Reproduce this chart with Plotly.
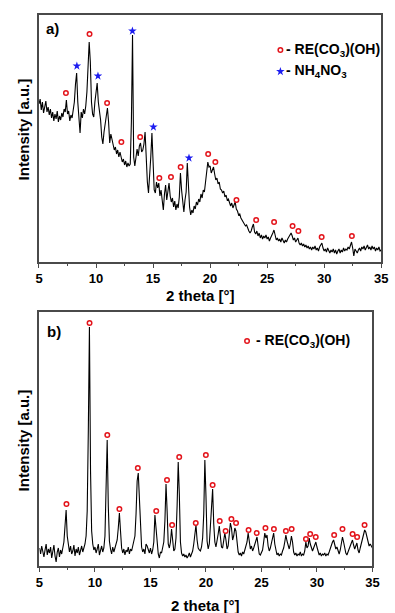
import plotly.graph_objects as go

# ---------------- scan settings ----------------
SCAN_START = 5.0
SCAN_STEP = 0.1

# ---------------- panel a: as-precipitated powder ----------------
intensity_a = [
    158, 163, 152, 160, 149, 156, 161, 150, 155, 147,   # 5.0 - 5.9
    153, 144, 150, 141, 148, 143, 151, 140, 146, 142,   # 6.0 - 6.9
    149, 145, 153, 150, 162, 148, 151, 141, 147, 144,   # 7.0 - 7.9
    152, 160, 178, 189, 160, 140, 129, 150, 144, 153,   # 8.0 - 8.9
    148, 156, 170, 195, 220, 200, 160, 148, 145, 160,   # 9.0 - 9.9
    170, 179, 160, 150, 142, 125, 118, 130, 140, 150,   # 10.0 - 10.9
    154, 140, 119, 128, 122, 118, 112, 115, 108, 112,   # 11.0 - 11.9
    105, 110, 106, 100, 103, 97, 101, 95, 99, 96,       # 12.0 - 12.9
    98, 140, 227, 105, 96, 108, 113, 106, 116, 119,     # 13.0 - 13.9
    110, 112, 118, 130, 100, 80, 69, 85, 105, 129,      # 14.0 - 14.9
    95, 72, 69, 80, 74, 79, 66, 72, 62, 52,             # 15.0 - 15.9
    68, 77, 62, 70, 79, 66, 60, 64, 55, 61,             # 16.0 - 16.9
    52, 58, 54, 65, 89, 72, 58, 50, 62, 70,             # 17.0 - 17.9
    99, 75, 55, 47, 52, 49, 56, 53, 60, 57,             # 18.0 - 18.9
    63, 60, 68, 64, 72, 70, 80, 88, 100, 95,            # 19.0 - 19.9
    96, 89, 92, 95, 88, 82, 84, 78, 80, 73,             # 20.0 - 20.9
    72, 69, 71, 65, 67, 62, 63, 58, 56, 59,             # 21.0 - 21.9
    54, 57, 60, 53, 51, 47, 48, 44, 42, 40,             # 22.0 - 22.9
    38, 36, 37, 33, 31, 29, 31, 35, 38, 30,             # 23.0 - 23.9
    28, 31, 26, 29, 24, 27, 23, 26, 24, 27,             # 24.0 - 24.9
    23, 25, 21, 24, 26, 29, 32, 25, 22, 24,             # 25.0 - 25.9
    21, 23, 20, 24, 21, 19, 22, 20, 23, 25,             # 26.0 - 26.9
    27, 29, 26, 22, 24, 20, 22, 24, 19, 17,             # 27.0 - 27.9
    19, 16, 18, 15, 17, 14, 16, 13, 15, 12,             # 28.0 - 28.9
    15, 13, 16, 12, 14, 11, 15, 18, 19, 14,             # 29.0 - 29.9
    11, 13, 10, 14, 11, 9, 12, 10, 13, 9,               # 30.0 - 30.9
    12, 8, 11, 13, 9, 12, 10, 14, 11, 13,               # 31.0 - 31.9
    12, 15, 13, 17, 20, 14, 6, 13, 10, 9,               # 32.0 - 32.9
    12, 14, 11, 15, 13, 16, 12, 14, 17, 13,             # 33.0 - 33.9
    15, 12, 16, 13, 15, 11, 14, 12, 15, 11,             # 34.0 - 34.9
    12,                                                 # 35.0
]

# reflections of RE(CO3)(OH) in panel a
re_pos_a = [7.36, 9.43, 10.97, 12.22, 13.87, 15.55, 16.57, 17.42, 19.83,
            20.46, 22.31, 24.04, 25.61, 27.23, 27.74, 29.78, 32.43]
re_hgt_a = [169, 228, 159, 120, 125, 84, 85, 95, 108,
            100, 62, 42, 40, 36, 31, 25, 26]

# reflections of NH4NO3 in panel a
nh_pos_a = [8.32, 10.17, 13.19, 15.03, 18.15]
nh_hgt_a = [196, 186, 231, 135, 104]

# ---------------- panel b: washed powder ----------------
intensity_b = [
    18, 12, 20, 14, 9, 16, 22, 11, 17, 13,              # 5.0 - 5.9
    19, 8, 15, 21, 10, 4, 14, 18, 9, 16,                # 6.0 - 6.9
    12, 20, 24, 40, 56, 30, 19, 14, 20, 12,             # 7.0 - 7.9
    15, 21, 10, 17, 13, 19, 11, 16, 20, 14,             # 8.0 - 8.9
    18, 22, 30, 55, 135, 239, 95, 35, 22, 16,           # 9.0 - 9.9
    19, 13, 17, 22, 11, 15, 20, 14, 18, 30,             # 10.0 - 10.9
    75, 126, 60, 25, 17, 12, 19, 14, 18, 21,            # 11.0 - 11.9
    26, 38, 53, 35, 18, 13, 17, 11, 16, 14,             # 12.0 - 12.9
    19, 12, 17, 15, 20, 23, 30, 52, 85, 93,             # 13.0 - 13.9
    62, 30, 19, 14, 17, 12, 22, 20, 15, 13,             # 14.0 - 14.9
    18, 12, 16, 24, 51, 40, 22, 12, 8, 14,              # 15.0 - 15.9
    13, 18, 24, 45, 82, 55, 22, 18, 24, 37,             # 16.0 - 16.9
    22, 15, 17, 28, 60, 104, 72, 24, 13, 10,            # 17.0 - 17.9
    12, 9, 11, 8, 10, 13, 9, 12, 15, 22,                # 18.0 - 18.9
    30, 41, 26, 18, 16, 15, 19, 28, 52, 106,            # 19.0 - 19.9
    70, 25, 17, 22, 40, 65, 77, 42, 24, 19,             # 20.0 - 20.9
    24, 32, 40, 28, 19, 18, 24, 33, 26, 17,             # 21.0 - 21.9
    20, 30, 43, 38, 26, 30, 38, 35, 22, 14,             # 22.0 - 22.9
    11, 13, 10, 14, 12, 16, 18, 24, 33, 25,             # 23.0 - 23.9
    17, 20, 15, 18, 22, 27, 29, 20, 12, 11,             # 24.0 - 24.9
    13, 16, 24, 33, 28, 31, 20, 15, 18, 24,             # 25.0 - 25.9
    30, 33, 22, 14, 11, 13, 10, 12, 11, 15,             # 26.0 - 26.9
    18, 24, 31, 25, 19, 17, 22, 30, 24, 14,             # 27.0 - 27.9
    11, 13, 10, 12, 11, 14, 10, 12, 11, 15,             # 28.0 - 28.9
    24, 18, 20, 28, 22, 17, 15, 18, 22, 24,             # 29.0 - 29.9
    19, 14, 11, 13, 10, 12, 11, 13, 10, 12,             # 30.0 - 30.9
    11, 14, 18, 22, 24, 26, 21, 17, 19, 14,             # 31.0 - 31.9
    12, 16, 22, 29, 24, 16, 13, 11, 14, 17,             # 32.0 - 32.9
    20, 24, 26, 21, 17, 20, 23, 16, 13, 18,             # 33.0 - 33.9
    22, 27, 32, 36, 34, 28, 24, 20, 22, 19,             # 34.0 - 34.9
    18,                                                 # 35.0
]

re_pos_b = [7.43, 9.51, 11.11, 12.20, 13.86, 15.52, 16.49, 16.95, 17.59, 19.08,
            19.99, 20.60, 21.24, 21.77, 22.29, 22.71, 23.84, 24.57, 25.36, 26.12,
            27.20, 27.72, 29.01, 29.39, 29.89, 31.55, 32.30, 33.21, 33.62, 34.29]
re_hgt_b = [62, 243, 131, 57, 98, 55, 86, 41, 109, 43,
            111, 81, 45, 35, 47, 43, 36, 33, 38, 37,
            35, 37, 27, 32, 29, 31, 37, 32, 29, 41]

x_ticks = [5, 10, 15, 20, 25, 30, 35]

# ---------------- figure ----------------
W, H = 395, 613
FONT = "Liberation Sans"
RED = "#e3141b"
BLUE = "#1c1cf0"
FRAME = "#4a4a4a"

CIRCLE = dict(symbol="circle-open", size=4.5, color=RED, line=dict(width=1.5, color=RED))
STAR = dict(symbol="star", size=6.5, color=BLUE, line=dict(width=0))


def scan_axis(n):
    return [round(SCAN_START + SCAN_STEP * i, 2) for i in range(n)]


def px(x):
    return x / W


def py(y):
    return 1 - y / H


fig = go.Figure()

fig.add_trace(go.Scatter(x=scan_axis(len(intensity_a)), y=intensity_a, mode="lines",
                         line=dict(color="black", width=1.1), xaxis="x", yaxis="y",
                         showlegend=False))
fig.add_trace(go.Scatter(x=re_pos_a, y=re_hgt_a, mode="markers", marker=CIRCLE,
                         xaxis="x", yaxis="y", showlegend=False))
fig.add_trace(go.Scatter(x=nh_pos_a, y=nh_hgt_a, mode="markers", marker=STAR,
                         xaxis="x", yaxis="y", showlegend=False))

fig.add_trace(go.Scatter(x=scan_axis(len(intensity_b)), y=intensity_b, mode="lines",
                         line=dict(color="black", width=1.1), xaxis="x2", yaxis="y2",
                         showlegend=False))
fig.add_trace(go.Scatter(x=re_pos_b, y=re_hgt_b, mode="markers", marker=CIRCLE,
                         xaxis="x2", yaxis="y2", showlegend=False))

# key symbols drawn in paper space next to the key text
fig.add_trace(go.Scatter(x=[284.3 / W, 250 / W], y=[py(50), py(341)], mode="markers",
                         marker=CIRCLE, xaxis="x3", yaxis="y3", showlegend=False,
                         hoverinfo="skip"))
fig.add_trace(go.Scatter(x=[284.3 / W], y=[py(71.5)], mode="markers", marker=STAR,
                         xaxis="x3", yaxis="y3", showlegend=False, hoverinfo="skip"))

tickfont = dict(family=FONT, size=13, color="black", weight="bold")


def xaxis_cfg(domain, anchor):
    return dict(domain=domain, anchor=anchor, range=[5, 35], tickvals=x_ticks,
                ticks="outside", ticklen=4, tickwidth=1.2, tickcolor=FRAME,
                minor=dict(ticks="outside", dtick=2.5, tick0=5, ticklen=2.5,
                           tickwidth=1.2, tickcolor=FRAME),
                showline=True, linecolor=FRAME, linewidth=1.5, mirror=True,
                showgrid=False, zeroline=False, tickfont=tickfont, fixedrange=True)


def yaxis_cfg(domain, anchor, top):
    return dict(domain=domain, anchor=anchor, range=[0, top], showticklabels=False,
                ticks="", showline=True, linecolor=FRAME, linewidth=1.5, mirror=True,
                showgrid=False, zeroline=False, fixedrange=True)


fig.update_layout(
    width=W, height=H,
    margin=dict(l=0, r=0, t=0, b=0),
    paper_bgcolor="white", plot_bgcolor="rgba(0,0,0,0)",
    xaxis=xaxis_cfg([px(36), px(388)], "y"),
    yaxis=yaxis_cfg([py(262), py(15)], "x", 247),
    xaxis2=xaxis_cfg([px(36.5), px(379)], "y2"),
    yaxis2=yaxis_cfg([py(566), py(312)], "x2", 254),
    xaxis3=dict(domain=[0, 1], range=[0, 1], visible=False, anchor="y3", fixedrange=True),
    yaxis3=dict(domain=[0, 1], range=[0, 1], visible=False, anchor="x3", fixedrange=True),
)

label_font = dict(family=FONT, size=15, color="black", weight="bold")
key_font = dict(family=FONT, size=14, color="black", weight="bold")
title_font = dict(family=FONT, size=15, color="black", weight="bold")

annotations = [
    # panel labels
    dict(x=px(41), y=py(29), text="a)", xanchor="left", yanchor="middle", font=label_font),
    dict(x=px(42), y=py(331), text="b)", xanchor="left", yanchor="middle", font=label_font),
    # keys
    dict(x=px(288), y=py(50), text="- RE(CO<sub>3</sub>)(OH)", xanchor="left",
         yanchor="middle", font=key_font),
    dict(x=px(288), y=py(71.5), text="- NH<sub>4</sub>NO<sub>3</sub>", xanchor="left",
         yanchor="middle", font=key_font),
    dict(x=px(257), y=py(341), text="- RE(CO<sub>3</sub>)(OH)", xanchor="left",
         yanchor="middle", font=key_font),
    # axis titles
    dict(x=px(202), y=py(295), text="2 theta [°]", xanchor="center", yanchor="middle",
         font=title_font),
    dict(x=px(207.5), y=py(605), text="2 theta [°]", xanchor="center", yanchor="middle",
         font=title_font),
    dict(x=px(20), y=py(129), text="Intensity [a.u.]", textangle=-90, xanchor="center",
         yanchor="middle", font=title_font),
    dict(x=px(20), y=py(440), text="Intensity [a.u.]", textangle=-90, xanchor="center",
         yanchor="middle", font=title_font),
]
for a in annotations:
    a.update(xref="paper", yref="paper", showarrow=False)
fig.update_layout(annotations=annotations)

fig.write_html("out.html")
